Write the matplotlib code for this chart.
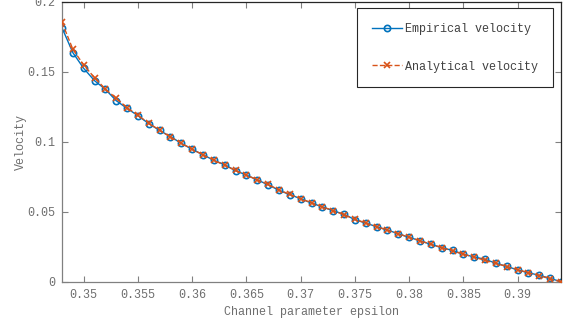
import numpy as np
import matplotlib
matplotlib.use('Agg')
import matplotlib.pyplot as plt

# channel parameter values (step 0.001)
epsilon = np.round(np.arange(0.348, 0.3945, 0.001), 3)

v_empirical = [0.1816, 0.1638, 0.1526, 0.1438, 0.1376, 0.1295, 0.1240, 0.1188,
               0.1131, 0.1083, 0.1038, 0.0991, 0.0948, 0.0909, 0.0869, 0.0838,
               0.0795, 0.0764, 0.0729, 0.0695, 0.0655, 0.0624, 0.0595, 0.0564,
               0.0536, 0.0509, 0.0484, 0.0445, 0.0421, 0.0395, 0.0371, 0.0345,
               0.0319, 0.0295, 0.0269, 0.0245, 0.0226, 0.0198, 0.0179, 0.0162,
               0.0134, 0.0112, 0.0086, 0.0066, 0.0048, 0.0026, 0.0002]

v_analytical = [0.1855, 0.1662, 0.1550, 0.1459, 0.1378, 0.1312, 0.1245, 0.1190,
                0.1135, 0.1083, 0.1036, 0.0991, 0.0948, 0.0908, 0.0870, 0.0833,
                0.0797, 0.0763, 0.0730, 0.0697, 0.0657, 0.0626, 0.0595, 0.0565,
                0.0537, 0.0510, 0.0480, 0.0449, 0.0421, 0.0396, 0.0370, 0.0344,
                0.0319, 0.0294, 0.0270, 0.0246, 0.0222, 0.0199, 0.0177, 0.0155,
                0.0133, 0.0110, 0.0088, 0.0066, 0.0045, 0.0023, 0.0001]

xticks = [0.35, 0.355, 0.36, 0.365, 0.37, 0.375, 0.38, 0.385, 0.39]
xticklabels = ['0.35', '0.355', '0.36', '0.365', '0.37', '0.375', '0.38', '0.385', '0.39']
yticks = [0, 0.05, 0.1, 0.15, 0.2]
yticklabels = ['0', '0.05', '0.1', '0.15', '0.2']

plt.rcParams['font.family'] = ['Liberation Mono', 'DejaVu Sans Mono']
plt.rcParams['font.size'] = 8.5

txt_col = '#6e6e6e'
ax_col = '#808080'

fig = plt.figure(figsize=(5.67, 3.28), dpi=100)
ax = fig.add_axes([62/567, 46/328, 499/567, 280/328])

ax.plot(epsilon, v_empirical, '-o', color='#0072BD', linewidth=1.0,
        markersize=4.5, markerfacecolor='none', markeredgewidth=1.2,
        label='Empirical velocity', zorder=2)
ax.plot(epsilon, v_analytical, '--x', color='#D95319', linewidth=1.0,
        markersize=4.5, markeredgewidth=1.2,
        label='Analytical velocity', zorder=3)

ax.set_xlim(0.348, 0.394)
ax.set_ylim(0, 0.2)
ax.set_xticks(xticks)
ax.set_xticklabels(xticklabels)
ax.set_yticks(yticks)
ax.set_yticklabels(yticklabels)
ax.tick_params(direction='in', length=4, width=0.8, colors=ax_col,
               labelcolor=txt_col, top=True, right=True, pad=5)
for side in ['left', 'bottom']:
    ax.spines[side].set_color(ax_col)
for side in ['top', 'right']:
    ax.spines[side].set_color('#262626')
for sp in ax.spines.values():
    sp.set_linewidth(0.9)

ax.set_xlabel('Channel parameter epsilon', color=txt_col, labelpad=4)
ax.set_ylabel('Velocity', color=txt_col, labelpad=0)

leg = ax.legend(loc='upper right', bbox_to_anchor=(0.984, 0.979), fancybox=False,
                framealpha=1, edgecolor='#262626', handlelength=2.6,
                labelspacing=2.2, borderpad=1.25, handletextpad=0.25,
                borderaxespad=0)
leg.get_frame().set_linewidth(0.8)
for t in leg.get_texts():
    t.set_color('#404040')

fig.savefig('out.png', dpi=100)
